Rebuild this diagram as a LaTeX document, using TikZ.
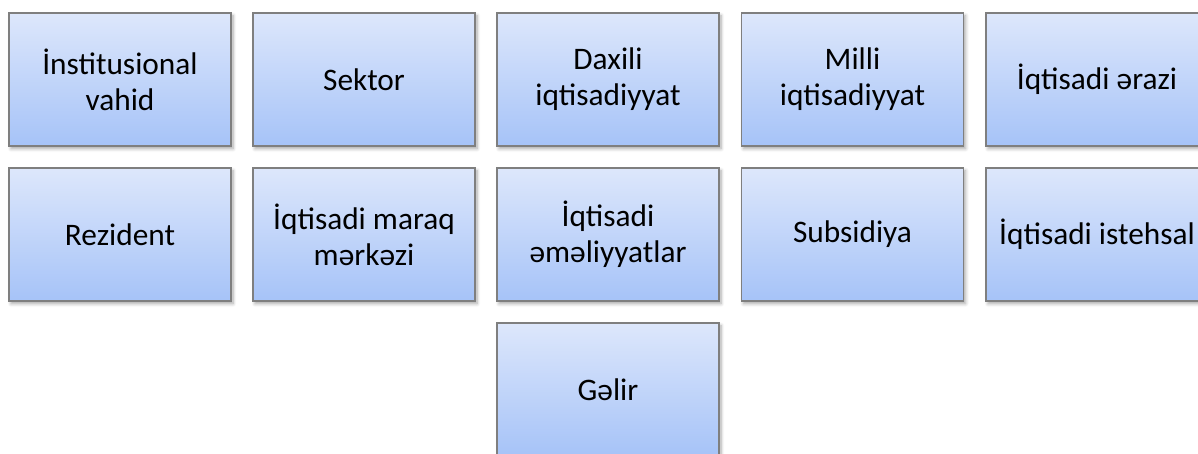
\documentclass[tikz,border=0pt]{standalone}
\usepackage{fontspec}
\setmainfont{Carlito}
\usetikzlibrary{shadows.blur}
\definecolor{boxtop}{HTML}{DDE7FB}
\definecolor{boxbot}{HTML}{A6C3F8}
\definecolor{boxline}{HTML}{7F7F7F}
\tikzset{
  cell/.style={rectangle, draw=boxline, line width=0.8pt,
    top color=boxtop, bottom color=boxbot,
    minimum width=166.5pt, minimum height=99.75pt,
    inner sep=0pt, align=center, text=black,
    font=\fontsize{23.5pt}{27pt}\selectfont,
    blur shadow={shadow xshift=1.5pt, shadow yshift=-2pt, shadow blur steps=6, shadow blur radius=2.5pt, shadow opacity=35}},
}
\begin{document}
\begin{tikzpicture}[x=0.75pt, y=-0.75pt]
\useasboundingbox (0,0) rectangle (1198,453);
\clip (0,0) rectangle (1198,453);
\node[cell] (a1) at (120,79.5) {İnstitusional\\vahid};
\node[cell] (a2) at (364,79.5) {Sektor};
\node[cell] (a3) at (608,79.5) {Daxili\\iqtisadiyyat};
\node[cell] (a4) at (852.5,79.5) {Milli\\iqtisadiyyat};
\node[cell] (a5) at (1097,79.5) {İqtisadi ərazi};
\node[cell] (b1) at (120,234.5) {Rezident};
\node[cell] (b2) at (364,234.5) {İqtisadi maraq\\mərkəzi};
\node[cell] (b3) at (608,234.5) {İqtisadi\\əməliyyatlar};
\node[cell] (b4) at (852.5,234.5) {Subsidiya};
\node[cell] (b5) at (1097,234.5) {İqtisadi istehsal};
\node[cell] (c3) at (608,389.5) {Gəlir};
\end{tikzpicture}
\end{document}
